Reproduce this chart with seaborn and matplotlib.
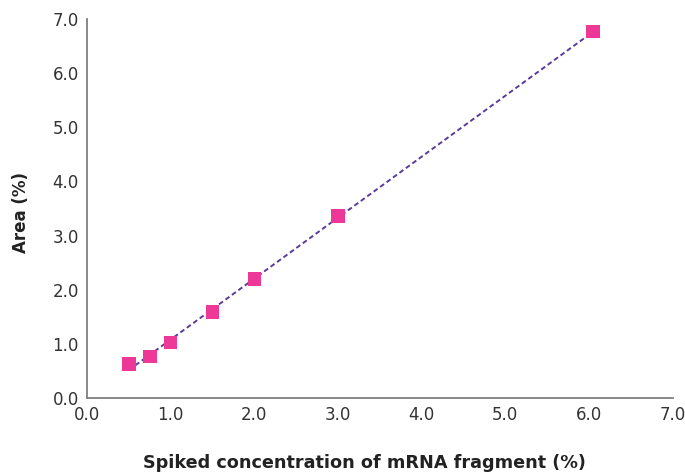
import matplotlib
matplotlib.use("Agg")
import matplotlib.pyplot as plt
import numpy as np
import pandas as pd
import seaborn as sns

# spiked concentration (%) vs measured area (%)
spiked = [0.5, 0.75, 1.0, 1.5, 2.0, 3.0, 6.05]
area = [0.63, 0.77, 1.03, 1.59, 2.20, 3.36, 6.77]
ticks = [0, 1, 2, 3, 4, 5, 6, 7]
tick_labels = ["0.0", "1.0", "2.0", "3.0", "4.0", "5.0", "6.0", "7.0"]

df = pd.DataFrame({"spiked": spiked, "area": area})

sns.set_style("white")
plt.rcParams['font.family'] = ['DejaVu Sans']

fig = plt.figure(figsize=(6.85, 4.74), dpi=100)
ax = fig.add_axes([0.127, 0.160, 0.855, 0.80])

sns.regplot(data=df, x="spiked", y="area", scatter=False, ci=None, truncate=True, ax=ax,
            line_kws={"color": "#5a3b9c", "linewidth": 1.4, "dashes": (2.5, 1.6)})
sns.scatterplot(data=df, x="spiked", y="area", marker="s", s=95, color="#ee3897",
                edgecolor="none", ax=ax, zorder=3)

ax.set_xlim(0, 7)
ax.set_ylim(0, 7)
ax.set_xticks(ticks)
ax.set_xticklabels(tick_labels)
ax.set_yticks(ticks)
ax.set_yticklabels(tick_labels)
ax.tick_params(axis="both", length=0, labelsize=12, colors="#333333", pad=6)

for side in ["top", "right"]:
    ax.spines[side].set_visible(False)
for side in ["left", "bottom"]:
    ax.spines[side].set_color("#7f7f7f")
    ax.spines[side].set_linewidth(1.3)

ax.set_xlabel("Spiked concentration of mRNA fragment (%)", fontsize=12.7, fontweight="bold",
              color="#222222")
ax.xaxis.set_label_coords(0.474, -0.148)
ax.set_ylabel("Area (%)", fontsize=12, fontweight="bold", color="#222222")
ax.yaxis.set_label_coords(-0.097, 0.49)

fig.savefig("out.png", dpi=100)
